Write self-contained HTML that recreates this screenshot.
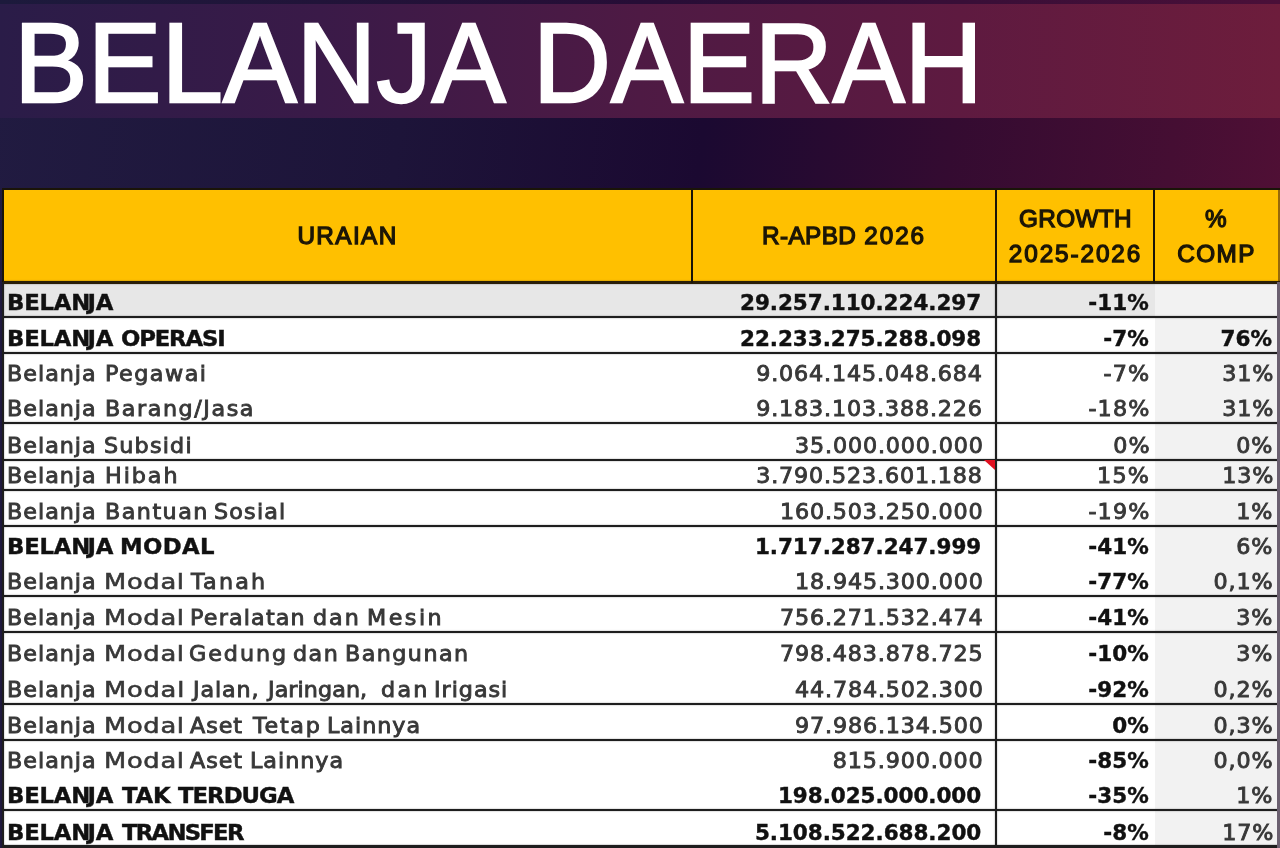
<!DOCTYPE html><html lang="id"><head><meta charset="utf-8"><title>Belanja Daerah</title><style>*{margin:0;padding:0;box-sizing:border-box}
html,body{width:1280px;height:848px;overflow:hidden;background:#1d1740}
.slide{position:relative;width:1280px;height:848px;overflow:hidden;
 background:linear-gradient(97deg,#211b41 0%,#1d1439 30%,#1b0931 52%,#340b31 70%,#450e33 86%,#571036 100%)}
.topstrip{position:absolute;left:0;top:0;width:1280px;height:4px;background:linear-gradient(90deg,#1c1a3c,#260d36 50%,#4a0f38)}
.band{position:absolute;left:0;top:4px;width:1280px;height:114px;
 background:linear-gradient(90deg,#2a1c48 0%,#3a1a48 25%,#4e1a44 50%,#5e1a40 75%,#6d1d3c 100%)}
.title{position:absolute;left:0;top:0;width:1280px;height:126px;font:400 114px/126px "Liberation Sans",sans-serif;color:#fff;white-space:nowrap;
 -webkit-text-stroke:2.4px #fff;filter:blur(.6px)}
.title span{position:absolute;top:0;transform-origin:0 0}
.t1{left:14.2px;transform:scaleX(.9695)}
.t2{left:533px;transform:scaleX(.9464)}
.tbl{position:absolute;left:0;top:0;width:1310px;height:880px;filter:blur(.7px)}
.hdr{position:absolute;left:2px;top:188px;width:1308px;height:95px;background:#ffc000;border:2px solid #1a1408;border-right:0}
.hdrr{position:absolute;left:1277.6px;top:190px;width:32px;height:92px;background:#96690a}
.hc{position:absolute;top:190px;height:92px;display:flex;align-items:center;justify-content:center;text-align:center;
 font:400 24.3px/35.5px "Liberation Sans",sans-serif;color:#1c1606;letter-spacing:1.4px;-webkit-text-stroke:1.3px #1c1606}
.hc i{font-style:normal;letter-spacing:1.9px}
.hc u{text-decoration:none;letter-spacing:.4px}
.h1c{left:4px;width:687px}
.h2c{left:692px;width:304px}
.h3c{left:997px;width:157px}
.h4c{left:1155px;width:123px}
.body{position:absolute;left:3px;top:282px;width:1275px;height:598px;background:#fff}
.compbg{position:absolute;left:1155px;top:282px;width:123px;height:598px;background:#f2f2f2}
.row1bg{position:absolute;left:3px;top:282px;width:1152px;height:34px;background:#e7e7e7}
.row1comp{position:absolute;left:1155px;top:282px;width:123px;height:34px;background:#f2f2f2}
.r{position:absolute;left:0;width:1280px;font:400 20.6px/24px "DejaVu Sans",sans-serif;color:#2a2a2a;white-space:nowrap}
.r span{position:absolute;bottom:2px;color:#383838;-webkit-text-stroke:.85px}
.r .b{font-weight:700;font-size:21.5px;color:#111;-webkit-text-stroke:.4px}
.r .b u{text-decoration:none;letter-spacing:-2.5px}
.r .w{left:0}
.c2{right:296.8px;letter-spacing:.78px;transform:scaleX(1.08);transform-origin:100% 50%}
.c2.b{right:298.8px;letter-spacing:-.05px;transform:none}
.c3{right:129.6px;letter-spacing:1.1px;transform:scaleX(1.08);transform-origin:100% 50%}
.c3.b{right:131px;letter-spacing:.1px;transform:none}
.c4{right:6.3px;letter-spacing:.8px;transform:scaleX(1.08);transform-origin:100% 50%}
.c4.b{right:8px;letter-spacing:0px;transform:none}
.hl{position:absolute;left:3px;width:1306px;height:2px;background:#1e1e1e;box-shadow:0 0 1.5px rgba(0,0,0,.5)}
.vl{position:absolute;top:282px;height:598px;width:2px;background:#1e1e1e;box-shadow:0 0 1.5px rgba(0,0,0,.5)}
.v0{left:2px}
.v2{left:994.5px}
.v3{left:1277px;width:33px;background:#6b6070;box-shadow:none}
.v1{display:none}
.vh{position:absolute;top:188px;height:95px;width:2px;background:#1a1408}
.vh1{left:690.5px}.vh2{left:995px}.vh3{left:1152.6px}
.tri{position:absolute;left:984px;top:460px;width:0;height:0;border-top:10px solid #e01020;border-left:11px solid transparent}
</style></head><body>
<div class="slide">
<div class="topstrip"></div><div class="band"></div>
<h1 class="title"><span class="t1">BELANJA</span> <span class="t2">DAERAH</span></h1>
<div class="tbl">
<div class="hdr"></div><div class="hdrr"></div>
<div class="hc h1c"><span>URAIAN</span></div>
<div class="hc h2c"><span><u>R-APBD</u> <i>2026</i></span></div>
<div class="hc h3c"><span><u>GROWTH</u> <br><i>2025-2026</i></span></div>
<div class="hc h4c"><span>% <br>COMP</span></div>
<div class="body"></div><div class="compbg"></div><div class="row1bg"></div><div class="row1comp"></div>
<div class="r" style="top:282px;height:34.5px"><span class="w b" style="left:6.50px;letter-spacing:-0.23px;transform:scaleX(1.06);transform-origin:0 50%">BELA<u>N</u>JA</span> <span class="c2 b">29.257.110.224.297</span> <span class="c3 b">-11%</span> <span class="c4"></span></div>
<div class="r" style="top:316.5px;height:36.5px"><span class="w b" style="left:6.50px;letter-spacing:-0.23px;transform:scaleX(1.06);transform-origin:0 50%">BELA<u>N</u>JA</span> <span class="w b" style="left:120.80px;letter-spacing:-1.11px;transform:scaleX(1.06);transform-origin:0 50%">OPERASI</span> <span class="c2 b">22.233.275.288.098</span> <span class="c3 b">-7%</span> <span class="c4 b">76%</span></div>
<div class="r" style="top:353px;height:35px"><span class="w" style="left:6.90px;letter-spacing:0.93px;transform:scaleX(1.08);transform-origin:0 50%">Belanja</span> <span class="w" style="left:105.00px;letter-spacing:1.37px;transform:scaleX(1.08);transform-origin:0 50%">Pegawai</span> <span class="c2">9.064.145.048.684</span> <span class="c3">-7%</span> <span class="c4">31%</span></div>
<div class="r" style="top:388px;height:35px"><span class="w" style="left:6.90px;letter-spacing:0.93px;transform:scaleX(1.08);transform-origin:0 50%">Belanja</span> <span class="w" style="left:105.00px;letter-spacing:1.45px;transform:scaleX(1.08);transform-origin:0 50%">Barang/Jasa</span> <span class="c2">9.183.103.388.226</span> <span class="c3">-18%</span> <span class="c4">31%</span></div>
<div class="r" style="top:423px;height:36.5px"><span class="w" style="left:6.90px;letter-spacing:0.93px;transform:scaleX(1.08);transform-origin:0 50%">Belanja</span> <span class="w" style="left:104.10px;letter-spacing:1.11px;transform:scaleX(1.08);transform-origin:0 50%">Subsidi</span> <span class="c2">35.000.000.000</span> <span class="c3">0%</span> <span class="c4">0%</span></div>
<div class="r" style="top:459.5px;height:30.0px"><span class="w" style="left:6.90px;letter-spacing:0.93px;transform:scaleX(1.08);transform-origin:0 50%">Belanja</span> <span class="w" style="left:105.00px;letter-spacing:1.79px;transform:scaleX(1.08);transform-origin:0 50%">Hibah</span> <span class="c2">3.790.523.601.188</span> <span class="c3">15%</span> <span class="c4">13%</span></div>
<div class="r" style="top:489.5px;height:36.5px"><span class="w" style="left:6.90px;letter-spacing:0.93px;transform:scaleX(1.08);transform-origin:0 50%">Belanja</span> <span class="w" style="left:105.00px;letter-spacing:1.37px;transform:scaleX(1.08);transform-origin:0 50%">Bantuan</span> <span class="w" style="left:214.10px;letter-spacing:1.10px;transform:scaleX(1.08);transform-origin:0 50%">Sosial</span> <span class="c2">160.503.250.000</span> <span class="c3">-19%</span> <span class="c4">1%</span></div>
<div class="r" style="top:526px;height:35px"><span class="w b" style="left:6.50px;letter-spacing:-0.23px;transform:scaleX(1.06);transform-origin:0 50%">BELA<u>N</u>JA</span> <span class="w b" style="left:120.40px;letter-spacing:0.34px;transform:scaleX(1.06);transform-origin:0 50%">MODAL</span> <span class="c2 b">1.717.287.247.999</span> <span class="c3 b">-41%</span> <span class="c4">6%</span></div>
<div class="r" style="top:561px;height:35px"><span class="w" style="left:6.90px;letter-spacing:0.93px;transform:scaleX(1.08);transform-origin:0 50%">Belanja</span> <span class="w" style="left:104.10px;letter-spacing:0.56px;transform:scaleX(1.25);transform-origin:0 50%;-webkit-text-stroke-width:.55px">Modal</span> <span class="w" style="left:190.70px;letter-spacing:2.02px;transform:scaleX(1.08);transform-origin:0 50%">Tanah</span> <span class="c2">18.945.300.000</span> <span class="c3 b">-77%</span> <span class="c4">0,1%</span></div>
<div class="r" style="top:596px;height:36px"><span class="w" style="left:6.90px;letter-spacing:0.93px;transform:scaleX(1.08);transform-origin:0 50%">Belanja</span> <span class="w" style="left:104.10px;letter-spacing:0.56px;transform:scaleX(1.25);transform-origin:0 50%;-webkit-text-stroke-width:.55px">Modal</span> <span class="w" style="left:189.50px;letter-spacing:1.08px;transform:scaleX(1.08);transform-origin:0 50%">Peralatan</span> <span class="w" style="left:312.50px;letter-spacing:1.84px;transform:scaleX(1.08);transform-origin:0 50%">dan</span> <span class="w" style="left:366.50px;letter-spacing:2.30px;transform:scaleX(1.08);transform-origin:0 50%">Mesin</span> <span class="c2">756.271.532.474</span> <span class="c3 b">-41%</span> <span class="c4">3%</span></div>
<div class="r" style="top:632px;height:36px"><span class="w" style="left:6.90px;letter-spacing:0.93px;transform:scaleX(1.08);transform-origin:0 50%">Belanja</span> <span class="w" style="left:104.10px;letter-spacing:0.56px;transform:scaleX(1.25);transform-origin:0 50%;-webkit-text-stroke-width:.55px">Modal</span> <span class="w" style="left:189.10px;letter-spacing:1.82px;transform:scaleX(1.08);transform-origin:0 50%">Gedung</span> <span class="w" style="left:292.90px;letter-spacing:1.37px;transform:scaleX(1.08);transform-origin:0 50%">dan</span> <span class="w" style="left:345.10px;letter-spacing:1.33px;transform:scaleX(1.08);transform-origin:0 50%">Bangunan</span> <span class="c2">798.483.878.725</span> <span class="c3 b">-10%</span> <span class="c4">3%</span></div>
<div class="r" style="top:668px;height:36px"><span class="w" style="left:6.90px;letter-spacing:0.93px;transform:scaleX(1.08);transform-origin:0 50%">Belanja</span> <span class="w" style="left:104.10px;letter-spacing:0.62px;transform:scaleX(1.25);transform-origin:0 50%;-webkit-text-stroke-width:.55px">Modal</span> <span class="w" style="left:192.50px;letter-spacing:0.82px;transform:scaleX(1.08);transform-origin:0 50%">Jalan,</span> <span class="w" style="left:268.10px;letter-spacing:0.07px;transform:scaleX(1.08);transform-origin:0 50%">Jaringan,</span> <span class="w" style="left:381.30px;letter-spacing:2.11px;transform:scaleX(1.08);transform-origin:0 50%">dan</span> <span class="w" style="left:434.10px;letter-spacing:0.90px;transform:scaleX(1.08);transform-origin:0 50%">Irigasi</span> <span class="c2">44.784.502.300</span> <span class="c3 b">-92%</span> <span class="c4">0,2%</span></div>
<div class="r" style="top:704px;height:36px"><span class="w" style="left:6.90px;letter-spacing:0.93px;transform:scaleX(1.08);transform-origin:0 50%">Belanja</span> <span class="w" style="left:104.10px;letter-spacing:0.56px;transform:scaleX(1.25);transform-origin:0 50%;-webkit-text-stroke-width:.55px">Modal</span> <span class="w" style="left:190.30px;letter-spacing:0.85px;transform:scaleX(1.08);transform-origin:0 50%">Aset</span> <span class="w" style="left:252.50px;letter-spacing:1.58px;transform:scaleX(1.08);transform-origin:0 50%">Tetap</span> <span class="w" style="left:327.00px;letter-spacing:0.91px;transform:scaleX(1.08);transform-origin:0 50%">Lainnya</span> <span class="c2">97.986.134.500</span> <span class="c3 b">0%</span> <span class="c4">0,3%</span></div>
<div class="r" style="top:740px;height:35px"><span class="w" style="left:6.90px;letter-spacing:0.93px;transform:scaleX(1.08);transform-origin:0 50%">Belanja</span> <span class="w" style="left:104.10px;letter-spacing:0.56px;transform:scaleX(1.25);transform-origin:0 50%;-webkit-text-stroke-width:.55px">Modal</span> <span class="w" style="left:190.30px;letter-spacing:0.85px;transform:scaleX(1.08);transform-origin:0 50%">Aset</span> <span class="w" style="left:249.50px;letter-spacing:0.91px;transform:scaleX(1.08);transform-origin:0 50%">Lainnya</span> <span class="c2">815.900.000</span> <span class="c3 b">-85%</span> <span class="c4">0,0%</span></div>
<div class="r" style="top:775px;height:35px"><span class="w b" style="left:6.50px;letter-spacing:-0.23px;transform:scaleX(1.06);transform-origin:0 50%">BELA<u>N</u>JA</span> <span class="w b" style="left:122.30px;letter-spacing:-0.20px;transform:scaleX(1.06);transform-origin:0 50%">TAK</span> <span class="w b" style="left:177.70px;letter-spacing:-0.95px;transform:scaleX(1.06);transform-origin:0 50%">TERDUGA</span> <span class="c2 b">198.025.000.000</span> <span class="c3 b">-35%</span> <span class="c4">1%</span></div>
<div class="r" style="top:810px;height:37px"><span class="w b" style="left:6.50px;letter-spacing:-0.23px;transform:scaleX(1.06);transform-origin:0 50%">BELA<u>N</u>JA</span> <span class="w b" style="left:122.30px;letter-spacing:-1.68px;transform:scaleX(1.06);transform-origin:0 50%">TRANSFER</span> <span class="c2 b">5.108.522.688.200</span> <span class="c3 b">-8%</span> <span class="c4">17%</span></div>
<div class="hl" style="top:281px;height:2.6px;background:#2a1f08"></div>
<div class="hl" style="top:315.5px"></div>
<div class="hl" style="top:352px"></div>
<div class="hl" style="top:422px"></div>
<div class="hl" style="top:458.5px"></div>
<div class="hl" style="top:488.5px"></div>
<div class="hl" style="top:525px"></div>
<div class="hl" style="top:595px"></div>
<div class="hl" style="top:631px"></div>
<div class="hl" style="top:703px"></div>
<div class="hl" style="top:739px"></div>
<div class="hl" style="top:809px"></div>
<div class="hl" style="top:845px;height:35px"></div>
<div class="vl v1"></div><div class="vl v2"></div><div class="vl v3"></div><div class="vl v0"></div>
<div class="vh vh1"></div><div class="vh vh2"></div><div class="vh vh3"></div>
<div class="tri"></div>
</div></div></body></html>
